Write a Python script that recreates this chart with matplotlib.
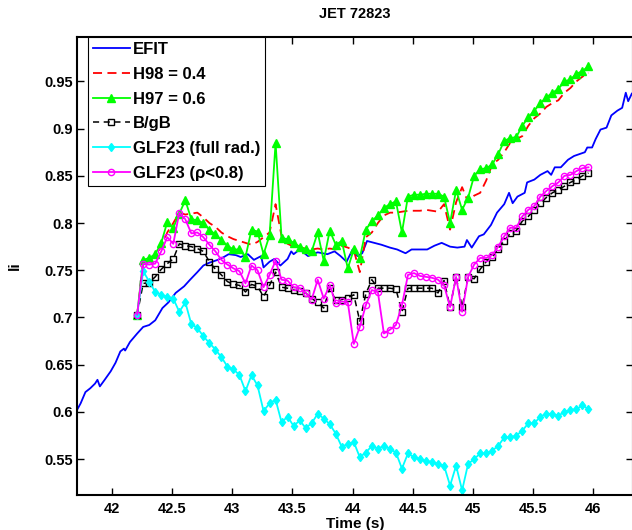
import matplotlib
matplotlib.use("Agg")
import matplotlib.pyplot as plt

plt.rcParams["font.family"] = ["Liberation Sans", "DejaVu Sans"]
plt.rcParams["font.weight"] = "bold"
plt.rcParams["axes.titleweight"] = "bold"
plt.rcParams["axes.labelweight"] = "bold"

# EFIT internal inductance
efit_t = [41.71, 41.74, 41.78, 41.82, 41.86, 41.88, 41.90, 41.94, 41.99, 42.03,
          42.07, 42.10, 42.11, 42.15, 42.21, 42.26, 42.31, 42.36, 42.42, 42.47,
          42.53, 42.60, 42.65, 42.71, 42.76, 42.81, 42.88, 42.93, 42.97, 43.03,
          43.07, 43.13, 43.18, 43.24, 43.26, 43.31, 43.35, 43.40, 43.46, 43.49,
          43.51, 43.56, 43.63, 43.71, 43.79, 43.85, 43.90, 43.95, 44.00, 44.04,
          44.08, 44.12, 44.18, 44.24, 44.31, 44.37, 44.44, 44.49, 44.56, 44.62,
          44.68, 44.74, 44.81, 44.87, 44.93, 44.95, 44.99, 45.05, 45.09, 45.15,
          45.20, 45.26, 45.30, 45.33, 45.37, 45.43, 45.45, 45.51, 45.56, 45.62,
          45.65, 45.68, 45.73, 45.79, 45.84, 45.93, 45.95, 45.99, 46.02, 46.06,
          46.11, 46.15, 46.20, 46.24, 46.27, 46.29, 46.32]
efit_li = [0.602, 0.609, 0.621, 0.625, 0.630, 0.634, 0.627, 0.634, 0.643, 0.652,
           0.664, 0.667, 0.665, 0.674, 0.683, 0.690, 0.692, 0.697, 0.710, 0.716,
           0.726, 0.733, 0.740, 0.748, 0.755, 0.758, 0.761, 0.764, 0.767, 0.766,
           0.764, 0.767, 0.761, 0.765, 0.753, 0.759, 0.762, 0.755, 0.762, 0.770,
           0.767, 0.772, 0.765, 0.769, 0.767, 0.770, 0.765, 0.759, 0.772, 0.765,
           0.768, 0.781, 0.779, 0.777, 0.774, 0.772, 0.768, 0.772, 0.772, 0.772,
           0.776, 0.779, 0.775, 0.774, 0.775, 0.782, 0.774, 0.786, 0.788, 0.798,
           0.811, 0.820, 0.832, 0.821, 0.828, 0.832, 0.843, 0.846, 0.851, 0.855,
           0.851, 0.859, 0.859, 0.867, 0.871, 0.875, 0.880, 0.880, 0.889, 0.899,
           0.901, 0.914, 0.919, 0.922, 0.938, 0.929, 0.937]

# simulation output times
model_t = [42.21, 42.26, 42.31, 42.36, 42.41, 42.46, 42.51, 42.56, 42.61, 42.66,
           42.71, 42.76, 42.81, 42.86, 42.91, 42.96, 43.01, 43.06, 43.11, 43.16,
           43.21, 43.26, 43.31, 43.36, 43.41, 43.46, 43.51, 43.56, 43.61, 43.66,
           43.71, 43.76, 43.81, 43.86, 43.91, 43.96, 44.01, 44.06, 44.11, 44.16,
           44.21, 44.26, 44.31, 44.36, 44.41, 44.46, 44.51, 44.56, 44.61, 44.66,
           44.71, 44.76, 44.81, 44.86, 44.91, 44.96, 45.01, 45.06, 45.11, 45.16,
           45.21, 45.26, 45.31, 45.36, 45.41, 45.46, 45.51, 45.56, 45.61, 45.66,
           45.71, 45.76, 45.81, 45.86, 45.91, 45.96]

h98_li = [0.703, 0.757, 0.760, 0.765, 0.775, 0.790, 0.800, 0.811, 0.809, 0.810,
          0.811, 0.806, 0.800, 0.796, 0.790, 0.786, 0.783, 0.781, 0.779, 0.777,
          0.780, 0.785, 0.790, 0.820, 0.786, 0.778, 0.775, 0.774, 0.773, 0.772,
          0.773, 0.772, 0.773, 0.772, 0.776, 0.774, 0.771, 0.748, 0.785, 0.790,
          0.800, 0.808, 0.811, 0.811, 0.812, 0.813, 0.813, 0.813, 0.814, 0.813,
          0.812, 0.820, 0.793, 0.822, 0.838, 0.822, 0.829, 0.832, 0.845, 0.862,
          0.867, 0.875, 0.885, 0.889, 0.892, 0.903, 0.911, 0.916, 0.923, 0.927,
          0.930, 0.938, 0.943, 0.950, 0.955, 0.959]

h97_li = [0.703, 0.761, 0.763, 0.767, 0.779, 0.801, 0.795, 0.810, 0.824, 0.804,
          0.803, 0.800, 0.793, 0.788, 0.782, 0.776, 0.772, 0.772, 0.764, 0.793,
          0.791, 0.767, 0.787, 0.885, 0.784, 0.783, 0.779, 0.775, 0.772, 0.770,
          0.790, 0.760, 0.792, 0.777, 0.781, 0.752, 0.772, 0.763, 0.793, 0.802,
          0.808, 0.816, 0.820, 0.823, 0.790, 0.828, 0.830, 0.830, 0.831, 0.831,
          0.831, 0.828, 0.800, 0.835, 0.814, 0.827, 0.850, 0.857, 0.858, 0.862,
          0.873, 0.887, 0.890, 0.891, 0.903, 0.912, 0.919, 0.927, 0.933, 0.938,
          0.942, 0.950, 0.952, 0.958, 0.961, 0.966]

bgb_li = [0.703, 0.736, 0.737, 0.743, 0.751, 0.757, 0.762, 0.778, 0.776, 0.775,
          0.773, 0.770, 0.759, 0.751, 0.745, 0.738, 0.735, 0.734, 0.727, 0.735,
          0.733, 0.722, 0.734, 0.748, 0.732, 0.731, 0.729, 0.728, 0.726, 0.720,
          0.716, 0.710, 0.731, 0.718, 0.719, 0.721, 0.724, 0.696, 0.725, 0.740,
          0.731, 0.731, 0.731, 0.730, 0.706, 0.731, 0.731, 0.731, 0.731, 0.731,
          0.726, 0.739, 0.711, 0.743, 0.711, 0.743, 0.741, 0.751, 0.759, 0.764,
          0.773, 0.781, 0.789, 0.792, 0.802, 0.807, 0.814, 0.821, 0.827, 0.832,
          0.835, 0.839, 0.843, 0.846, 0.850, 0.853]

glf_full_li = [0.703, 0.749, 0.738, 0.727, 0.724, 0.722, 0.720, 0.706, 0.716, 0.693,
               0.689, 0.680, 0.673, 0.666, 0.658, 0.648, 0.645, 0.639, 0.622, 0.639,
               0.628, 0.601, 0.609, 0.613, 0.589, 0.595, 0.585, 0.591, 0.583, 0.588,
               0.598, 0.593, 0.587, 0.577, 0.563, 0.566, 0.568, 0.552, 0.557, 0.564,
               0.561, 0.564, 0.561, 0.557, 0.540, 0.556, 0.552, 0.550, 0.548, 0.547,
               0.545, 0.543, 0.522, 0.543, 0.517, 0.545, 0.550, 0.556, 0.556, 0.559,
               0.564, 0.573, 0.573, 0.575, 0.580, 0.588, 0.588, 0.595, 0.598, 0.598,
               0.596, 0.600, 0.602, 0.603, 0.607, 0.603]

glf_core_li = [0.703, 0.757, 0.756, 0.757, 0.770, 0.785, 0.778, 0.811, 0.804, 0.789,
               0.790, 0.785, 0.777, 0.770, 0.761, 0.756, 0.752, 0.749, 0.736, 0.755,
               0.750, 0.732, 0.745, 0.760, 0.740, 0.739, 0.732, 0.731, 0.726, 0.719,
               0.740, 0.720, 0.734, 0.715, 0.717, 0.716, 0.672, 0.690, 0.713, 0.729,
               0.727, 0.683, 0.687, 0.692, 0.713, 0.745, 0.747, 0.744, 0.743, 0.742,
               0.740, 0.734, 0.711, 0.743, 0.706, 0.743, 0.756, 0.763, 0.763, 0.766,
               0.775, 0.786, 0.795, 0.795, 0.807, 0.814, 0.818, 0.828, 0.834, 0.839,
               0.843, 0.850, 0.851, 0.855, 0.858, 0.859]

xticks = [42, 42.5, 43, 43.5, 44, 44.5, 45, 45.5, 46]
xtick_labels = ["42", "42.5", "43", "43.5", "44", "44.5", "45", "45.5", "46"]
yticks = [0.55, 0.6, 0.65, 0.7, 0.75, 0.8, 0.85, 0.9, 0.95]
ytick_labels = ["0.55", "0.6", "0.65", "0.7", "0.75", "0.8", "0.85", "0.9", "0.95"]

# %%
fig = plt.figure(figsize=(6.32, 5.30), dpi=100)
ax = fig.add_axes([77 / 632, 35 / 530, 556 / 632, 458 / 530])

ax.plot(efit_t, efit_li, "-", color="#0000ff", lw=1.3, label="EFIT")
ax.plot(model_t, h98_li, "--", color="#ff0000", lw=1.3, dashes=(5, 3),
        label="H98 = 0.4")
ax.plot(model_t, h97_li, "-^", color="#00ff00", ms=5.5, lw=1.3,
        label="H97 = 0.6")
ax.plot(model_t, bgb_li, "--s", color="k", mfc="none", ms=4.5, lw=1.1,
        dashes=(4, 3), label="B/gB")
ax.plot(model_t, glf_full_li, "-d", color="#00ffff", ms=4.5, lw=1.3,
        label="GLF23 (full rad.)")
ax.plot(model_t, glf_core_li, "-o", color="#ff00ff", mfc="none", ms=4.5,
        lw=1.3, label="GLF23 (\u03c1<0.8)")

ax.set_xlim(41.71, 46.33)
ax.set_ylim(0.512, 0.997)
ax.set_xticks(xticks)
ax.set_xticklabels(xtick_labels)
ax.set_yticks(yticks)
ax.set_yticklabels(ytick_labels)
ax.tick_params(direction="in", top=True, right=True, length=5, width=1,
               labelsize=10.5)
ax.tick_params(axis="y", pad=3)
ax.tick_params(axis="x", pad=5)
for spine in ax.spines.values():
    spine.set_linewidth(1.5)

ax.set_xlabel("Time (s)", fontsize=11, labelpad=0.5)
ax.set_ylabel("li", fontsize=11)
ax.yaxis.set_label_coords(-0.10, 0.5)
ax.set_title("JET 72823", fontsize=10.5, pad=14)

leg = ax.legend(loc="upper left", bbox_to_anchor=(0.0198, 1.0),
                borderaxespad=0, fancybox=False, edgecolor="k",
                framealpha=1, fontsize=12, handlelength=2.2,
                handletextpad=0.2, labelspacing=0.585, borderpad=0.3)
leg.get_frame().set_linewidth(0.8)

fig.savefig("out.png", dpi=100)
